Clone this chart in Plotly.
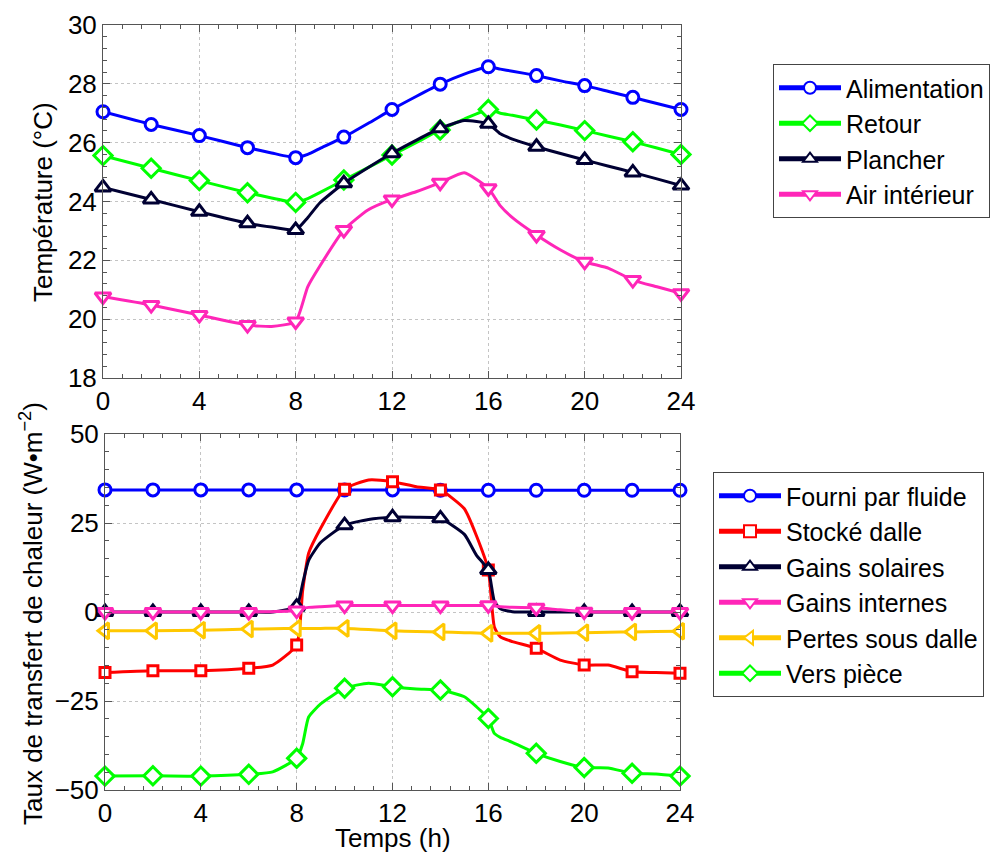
import plotly.graph_objects as go

# ---------------- data ----------------
# Top panel: temperatures (°C)
t_top = [0, 2, 4, 6, 7, 8, 8.5, 9, 10, 11, 12, 13, 14, 15, 16, 16.5, 17, 18, 19, 20, 21, 22, 23, 24]
alimentation = [27.05, 26.62, 26.24, 25.83, 25.65, 25.49, 25.60, 25.80, 26.19, 26.65, 27.13, 27.57, 27.99, 28.33,
                28.58, 28.50, 28.43, 28.28, 28.10, 27.94, 27.74, 27.54, 27.33, 27.13]
retour = [25.56, 25.13, 24.71, 24.30, 24.12, 23.97, 24.10, 24.30, 24.73, 25.15, 25.58, 26.00, 26.43, 26.80,
          27.13, 27.00, 26.93, 26.77, 26.60, 26.41, 26.22, 26.03, 25.82, 25.60]
plancher = [24.48, 24.07, 23.65, 23.26, 23.13, 23.03, 23.45, 23.95, 24.62, 25.15, 25.64, 26.08, 26.49, 26.75,
            26.64, 26.30, 26.12, 25.86, 25.63, 25.41, 25.20, 24.99, 24.77, 24.54]
air_interieur = [20.77, 20.48, 20.14, 19.80, 19.75, 19.92, 21.10, 21.80, 23.03, 23.71, 24.07, 24.33, 24.64, 24.98,
                 24.45, 23.85, 23.45, 22.86, 22.35, 21.95, 21.73, 21.33, 21.10, 20.88]

# Bottom panel: heat transfer rates (W·m-2)
t_bot = [0, 2, 4, 6, 7, 8, 8.25, 8.5, 9, 10, 11, 12, 13, 14, 15, 15.5, 16, 16.25, 16.5, 17, 18, 19, 20, 21, 22, 23, 24]
fourni_fluide = [34.3, 34.3, 34.3, 34.3, 34.3, 34.3, 34.3, 34.3, 34.3, 34.3, 34.3, 34.3, 34.3, 34.2, 34.2, 34.2,
                 34.2, 34.2, 34.2, 34.2, 34.2, 34.2, 34.2, 34.2, 34.2, 34.2, 34.2]
stocke_dalle = [-17.0, -16.5, -16.5, -15.8, -14.9, -9.3, 6.0, 16.5, 23.5, 34.5, 37.1, 36.6, 35.2, 34.3, 29.0, 21.5,
                11.8, -4.2, -7.0, -8.3, -10.2, -13.5, -14.9, -14.9, -16.8, -17.0, -17.2]
gains_solaires = [0.0, 0.0, 0.0, 0.0, 0.0, 1.5, 8.0, 14.5, 19.5, 24.4, 26.0, 26.6, 26.6, 26.3, 21.8, 16.0,
                  11.8, 3.0, 0.9, 0.1, 0.0, 0.0, 0.0, 0.0, 0.0, 0.0, 0.0]
gains_internes = [0.0, 0.0, 0.0, 0.0, 0.1, 0.4, 1.0, 1.3, 1.5, 1.8, 1.8, 1.8, 1.8, 1.8, 1.8, 1.8,
                  1.9, 1.7, 1.5, 1.3, 1.2, 0.6, 0.1, 0.0, 0.0, 0.0, 0.0]
pertes_sous_dalle = [-5.3, -5.3, -5.1, -4.8, -4.7, -4.6, -4.6, -4.6, -4.6, -4.6, -4.9, -5.3, -5.5, -5.6, -5.8, -5.9,
                     -6.0, -6.0, -6.0, -6.0, -6.0, -5.9, -5.8, -5.7, -5.6, -5.5, -5.4]
vers_piece = [-46.1, -46.0, -46.1, -45.6, -44.9, -41.1, -37.0, -29.5, -25.8, -21.4, -20.0, -21.0, -21.6, -21.9,
              -23.8, -26.6, -29.9, -34.1, -35.2, -36.6, -39.7, -42.0, -43.7, -43.8, -45.3, -45.5, -46.1]

x_ticks = [0, 4, 8, 12, 16, 20, 24]
y_top_ticks = [18, 20, 22, 24, 26, 28, 30]
y_bot_ticks = [-50, -25, 0, 25, 50]

# ---------------- styling ----------------
W, H = 994, 854
FONT = "Liberation Sans, Arial, Helvetica, sans-serif"
BLUE, GREEN, NAVY, PINK, RED, YELLOW = "#0000ff", "#00ff00", "#000033", "#ff26b8", "#ff0000", "#ffc800"
AXC = "#555555"


def marker_arrays(ts, size):
    sizes = [size if (float(t).is_integer() and int(t) % 2 == 0) else 0 for t in ts]
    widths = [3 if s > 0 else 0 for s in sizes]
    return sizes, widths


fig = go.Figure()


def add(ts, ys, name, color, symbol, size, xa, ya, legend):
    sizes, widths = marker_arrays(ts, size)
    fig.add_trace(go.Scatter(
        x=ts, y=ys, name=name, mode="lines+markers", xaxis=xa, yaxis=ya,
        line=dict(color=color, width=3, shape="spline", smoothing=0.5),
        marker=dict(symbol=symbol, size=sizes, color="white", opacity=1,
                    line=dict(color=color, width=widths)),
        cliponaxis=False, legend=legend, legendgroup=name,
    ))


add(t_top, alimentation, "Alimentation", BLUE, "circle", 12, "x", "y", "legend")
add(t_top, retour, "Retour", GREEN, "diamond", 14, "x", "y", "legend")
add(t_top, plancher, "Plancher", NAVY, "triangle-up", 14, "x", "y", "legend")
add(t_top, air_interieur, "Air intérieur", PINK, "triangle-down", 14, "x", "y", "legend")

add(t_bot, fourni_fluide, "Fourni par fluide", BLUE, "circle", 12, "x2", "y2", "legend2")
add(t_bot, stocke_dalle, "Stocké dalle", RED, "square", 10, "x2", "y2", "legend2")
add(t_bot, gains_solaires, "Gains solaires", NAVY, "triangle-up", 14, "x2", "y2", "legend2")
add(t_bot, gains_internes, "Gains internes", PINK, "triangle-down", 14, "x2", "y2", "legend2")
add(t_bot, pertes_sous_dalle, "Pertes sous dalle", YELLOW, "triangle-left", 14, "x2", "y2", "legend2")
add(t_bot, vers_piece, "Vers pièce", GREEN, "diamond", 14, "x2", "y2", "legend2")

common_axis = dict(
    showline=True, linecolor=AXC, linewidth=1, mirror="ticks",
    ticks="inside", ticklen=7, tickcolor=AXC, tickwidth=1,
    showgrid=True, gridcolor="#c4c4c4", griddash="dot", gridwidth=1,
    zeroline=False, automargin=False,
    tickfont=dict(family=FONT, size=26, color="black"),
)

leg_common = dict(xanchor="left", yanchor="top", bgcolor="white", bordercolor="#444444", borderwidth=1,
                  font=dict(family=FONT, size=25, color="black"),
                  itemsizing="constant", tracegroupgap=0, itemwidth=62)

fig.update_layout(
    width=W, height=H,
    margin=dict(l=0, r=0, t=0, b=0),
    paper_bgcolor="white", plot_bgcolor="white",
    font=dict(family=FONT, size=26, color="black"),
    xaxis=dict(domain=[103 / W, 681 / W], range=[0, 24], tickvals=x_ticks, anchor="y",
               minor=dict(dtick=0.8, tick0=0, ticks="inside", ticklen=4, tickcolor=AXC, showgrid=False),
               **common_axis),
    yaxis=dict(domain=[1 - 378 / H, 1 - 25 / H], range=[18, 30], tickvals=y_top_ticks, anchor="x",
               minor=dict(dtick=0.4, tick0=18, ticks="inside", ticklen=4, tickcolor=AXC, showgrid=False),
               **common_axis),
    xaxis2=dict(domain=[105 / W, 680 / W], range=[0, 24], tickvals=x_ticks, anchor="y2",
                minor=dict(dtick=0.8, tick0=0, ticks="inside", ticklen=4, tickcolor=AXC, showgrid=False),
                **common_axis),
    yaxis2=dict(domain=[1 - 790 / H, 1 - 434 / H], range=[-50, 50], tickvals=y_bot_ticks, anchor="x2",
                minor=dict(dtick=5, tick0=-50, ticks="inside", ticklen=4, tickcolor=AXC, showgrid=False),
                **common_axis),
    legend=dict(x=773 / W, y=1 - 64 / H, **leg_common),
    legend2=dict(x=713 / W, y=1 - 472 / H, **leg_common),
    annotations=[
        dict(text="Température (°C)", x=43 / W, y=1 - 202 / H, xref="paper", yref="paper",
             textangle=-90, showarrow=False, xanchor="center", yanchor="middle",
             font=dict(family=FONT, size=26, color="black")),
        dict(text="Taux de transfert de chaleur (W•m<sup>−2</sup>)", x=31 / W, y=1 - 614 / H,
             xref="paper", yref="paper", textangle=-90, showarrow=False,
             xanchor="center", yanchor="middle", font=dict(family=FONT, size=26, color="black")),
        dict(text="Temps (h)", x=392.5 / W, y=1 - 838 / H, xref="paper", yref="paper",
             showarrow=False, xanchor="center", yanchor="middle",
             font=dict(family=FONT, size=26, color="black")),
    ],
)

fig.write_html("out.html")
